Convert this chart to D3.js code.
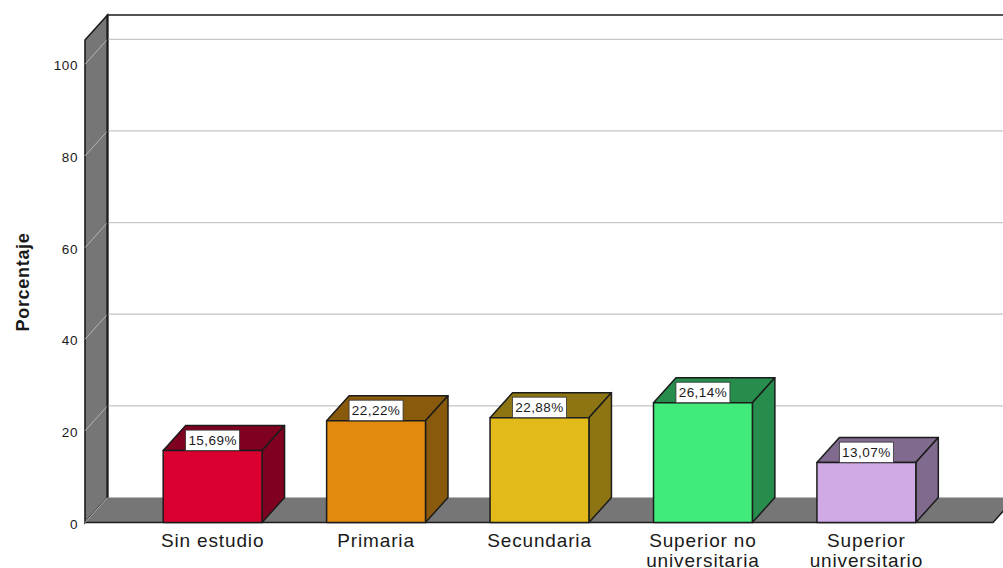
<!DOCTYPE html>
<html><head><meta charset="utf-8">
<script src="https://cdn.jsdelivr.net/npm/d3@7/dist/d3.min.js"></script>
<style>html,body{margin:0;padding:0;background:#fff;overflow:hidden}svg{display:block}text{font-family:"Liberation Sans",Arial,sans-serif;fill:#1a1a1a}</style>
</head><body><svg id="c" width="1003" height="568"></svg>
<script>
const categories=[["Sin estudio"],["Primaria"],["Secundaria"],["Superior no","universitaria"],["Superior","universitario"]];
const values=[15.69,22.22,22.88,26.14,13.07];
const valueLabels=["15,69%","22,22%","22,88%","26,14%","13,07%"];
const frontColors=["#d90030","#e18a0e","#e2bb1a","#41ea7b","#cfaae4"];
const sideColors=["#80001f","#8a5a0c","#8c7512","#278d4d","#806a8e"];
const yTicks=[0,20,40,60,80,100];
const yTitle="Porcentaje";
const yMax=105.3;

const svg=d3.select("#c");
const dx=22.5,dy=-25;
const y=d3.scaleLinear().domain([0,yMax]).range([522.5,40]);
const x=d3.scaleBand().domain(d3.range(categories.length)).range([130.5,948.5]).paddingInner(0.395).paddingOuter(0.2);
const xL=85,xR=993;
const line=d3.line();
const stroke="#1c1c1c", wall="#767676";

// side wall and floor
svg.append("path").attr("d",line([[xL,y(yMax)],[xL+dx,y(yMax)+dy],[xL+dx,y(0)+dy],[xL,y(0)]])+"Z").attr("fill",wall).attr("stroke",stroke).attr("stroke-width",1.6);
svg.append("path").attr("d",line([[xL,y(0)],[xL+dx,y(0)+dy],[xR+dx,y(0)+dy],[xR,y(0)]])+"Z").attr("fill",wall);
svg.append("path").attr("d",line([[xL,y(0)],[xR,y(0)],[xR+dx,y(0)+dy]])).attr("fill","none").attr("stroke",stroke).attr("stroke-width",1.4);
svg.append("path").attr("d",line([[xL+dx,y(0)+dy],[xL+dx,y(yMax)+dy],[1003,y(yMax)+dy]])).attr("fill","none").attr("stroke",stroke).attr("stroke-width",1.6);

// gridlines
yTicks.forEach(t=>{
  const p=y(t);
  svg.append("path").attr("d",line([[xL,p],[xL+dx,p+dy]])).attr("fill","none").attr("stroke","#b4b4b4").attr("stroke-width",1);
  if(t>0) svg.append("path").attr("d",line([[xL+dx,p+dy],[1003,p+dy]])).attr("fill","none").attr("stroke","#c6c6c6").attr("stroke-width",1.3);
  svg.append("text").attr("x",xL-7).attr("y",p+6).attr("text-anchor","end").attr("font-size",13.5).attr("letter-spacing",0.6).text(t);
});
svg.append("path").attr("d",line([[xL+dx,y(0)+dy],[xL+dx,y(yMax)+dy]])).attr("fill","none").attr("stroke",stroke).attr("stroke-width",1.6);

// y title
svg.append("text").attr("transform","translate(29,282) rotate(-90)").attr("text-anchor","middle").attr("font-size",18).attr("font-weight","bold").attr("letter-spacing",0.7).text(yTitle);

// bars
values.forEach((v,i)=>{
  const x0=x(i),x1=x0+x.bandwidth(),yt=y(v),yb=y(0);
  const g=svg.append("g").attr("stroke",stroke).attr("stroke-width",1.5).attr("stroke-linejoin","round");
  g.append("path").attr("d",line([[x0,yt],[x0+dx,yt+dy],[x1+dx,yt+dy],[x1,yt]])+"Z").attr("fill",sideColors[i]);
  g.append("path").attr("d",line([[x1,yt],[x1+dx,yt+dy],[x1+dx,yb+dy],[x1,yb]])+"Z").attr("fill",sideColors[i]);
  g.append("rect").attr("x",x0).attr("y",yt).attr("width",x.bandwidth()).attr("height",yb-yt).attr("fill",frontColors[i]);
  const c=x0+x.bandwidth()/2;
  svg.append("rect").attr("x",c-27).attr("y",yt-20.5).attr("width",54).attr("height",20.5).attr("fill","#fff").attr("stroke","#333").attr("stroke-width",0.8);
  svg.append("text").attr("x",c).attr("y",yt-5.5).attr("text-anchor","middle").attr("font-size",13.5).attr("letter-spacing",0.45).text(valueLabels[i]);
  // category label
  categories[i].forEach((s,k)=>{
    svg.append("text").attr("x",c).attr("y",547+k*20).attr("text-anchor","middle").attr("font-size",19).attr("letter-spacing",0.85).text(s);
  });
});
</script></body></html>
